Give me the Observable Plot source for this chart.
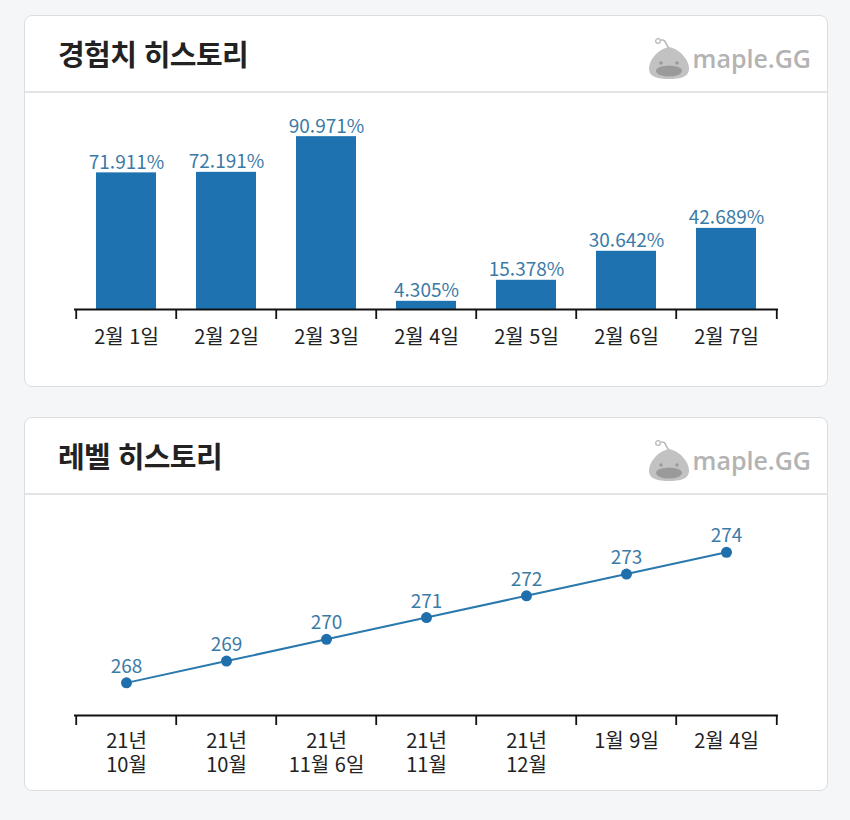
<!DOCTYPE html>
<html lang="ko">
<head>
<meta charset="utf-8">
<script src="https://cdn.jsdelivr.net/npm/d3@7"></script>
<script src="https://cdn.jsdelivr.net/npm/@observablehq/plot@0.6"></script>
<style>
  html, body { margin: 0; padding: 0; background: #f5f6f8; width: 850px; height: 820px; overflow: hidden; }
  body { font-family: "Noto Sans CJK KR", "Noto Sans", sans-serif; position: relative; }
  .card { position: absolute; left: 24px; width: 804px; box-sizing: border-box; background: #fff;
          border: 1px solid #dcdde0; border-radius: 8px; }
  .head { height: 75px; border-bottom: 2px solid #e3e4e6; position: relative; }
  .title { position: absolute; left: 33px; top: 0; line-height: 74px; font-size: 29px; font-weight: 700;
           color: #222; letter-spacing: -0.6px; }
  .logo { position: absolute; right: 16px; top: 20px; height: 44px; display: flex; align-items: center; }
  .logo span { font-family: "Open Sans", Lato, sans-serif; font-weight: 600; font-size: 25px; color: #b3b3b3;
               letter-spacing: 0px; margin-left: 1px; }
  .chart { position: absolute; left: 24px; }
</style>
</head>
<body>
<div class="card" style="top:15px;height:372px;">
  <div class="head"><div class="title">경험치 히스토리</div>
    <div class="logo"><svg width="46" height="44" viewBox="0 0 46 44">
      <path d="M23 12 C 19 8, 20 3, 15 4" fill="none" stroke="#b9b9b9" stroke-width="1.5"/>
      <circle cx="12" cy="5" r="2.3" fill="none" stroke="#b9b9b9" stroke-width="1.3"/>
      <path d="M23 11 C 12 13, 3 24, 3 33 C 3 41, 12 43, 23 43 C 34 43, 43 41, 43 33 C 43 24, 34 13, 23 11 Z" fill="#c2c2c2"/>
      <ellipse cx="23" cy="35" rx="13" ry="5.5" fill="#9a9a9a"/>
      <circle cx="15" cy="27" r="1.7" fill="#9a9a9a"/><circle cx="31" cy="27" r="1.7" fill="#9a9a9a"/>
    </svg><span>maple.GG</span></div>
  </div>
</div>
<div class="card" style="top:417px;height:374px;">
  <div class="head"><div class="title">레벨 히스토리</div>
    <div class="logo"><svg width="46" height="44" viewBox="0 0 46 44">
      <path d="M23 12 C 19 8, 20 3, 15 4" fill="none" stroke="#b9b9b9" stroke-width="1.5"/>
      <circle cx="12" cy="5" r="2.3" fill="none" stroke="#b9b9b9" stroke-width="1.3"/>
      <path d="M23 11 C 12 13, 3 24, 3 33 C 3 41, 12 43, 23 43 C 34 43, 43 41, 43 33 C 43 24, 34 13, 23 11 Z" fill="#c2c2c2"/>
      <ellipse cx="23" cy="35" rx="13" ry="5.5" fill="#9a9a9a"/>
      <circle cx="15" cy="27" r="1.7" fill="#9a9a9a"/><circle cx="31" cy="27" r="1.7" fill="#9a9a9a"/>
    </svg><span>maple.GG</span></div>
  </div>
</div>
<div id="c1" class="chart" style="top:92px;"></div>
<div id="c2" class="chart" style="top:495px;"></div>
<script>
// ---- data ----
const expDays = ["2월 1일", "2월 2일", "2월 3일", "2월 4일", "2월 5일", "2월 6일", "2월 7일"];
const expValues = [71.911, 72.191, 90.971, 4.305, 15.378, 30.642, 42.689];

const levelLabels = ["21년\n10월", "21년\n10월", "21년\n11월 6일", "21년\n11월", "21년\n12월", "1월 9일", "2월 4일"];
const levelValues = [268, 269, 270, 271, 272, 273, 274];

// ---- style ----
const W = 804, ML = 50, MR = 50;
const STEP = (W - ML - MR) / expDays.length;
const BAR = "#1f72b0", LABEL = "#3b7aa6", INK = "#111";
const baseStyle = {fontFamily: "'Noto Sans CJK KR', 'Noto Sans', sans-serif", fontSize: "19px", color: "#222", background: "transparent", overflow: "visible"};

function boundaryAxes(domain) {
  return [
    Plot.axisX({tickSize: 10, tickFormat: () => "", dx: -STEP / 2, stroke: INK, strokeWidth: 1.8}),
    Plot.axisX({ticks: [domain[domain.length - 1]], tickSize: 10, tickFormat: () => "", dx: STEP / 2, stroke: INK, strokeWidth: 1.8})
  ];
}

// ---- chart 1 ----
const expData = expDays.map((d, i) => ({day: d, v: expValues[i]}));
const c1 = Plot.plot({
  width: W, height: 293,
  marginLeft: ML, marginRight: MR, marginTop: 27, marginBottom: 76,
  style: baseStyle,
  x: {domain: expDays, type: "band", paddingInner: 0.4, paddingOuter: 0.2, label: null},
  y: {domain: [0, 100], axis: null},
  marks: [
    Plot.barY(expData, {x: "day", y: "v", fill: BAR}),
    Plot.text(expData, {x: "day", y: "v", text: d => d.v.toFixed(3) + "%", lineAnchor: "bottom", dy: -4, fill: LABEL, fontSize: 19}),
    Plot.ruleY([0], {stroke: INK, strokeWidth: 2}),
    ...boundaryAxes(expDays),
    Plot.axisX({tickSize: 0, tickPadding: 20, fontSize: 20, fill: "#222"})
  ]
});
document.getElementById("c1").append(c1);

// ---- chart 2 ----
const levelIdx = levelLabels.map((_, i) => i);
const levelData = levelIdx.map(i => ({i, v: levelValues[i]}));
const c2 = Plot.plot({
  width: W, height: 295,
  marginLeft: ML, marginRight: MR, marginTop: 35, marginBottom: 75,
  style: baseStyle,
  x: {domain: levelIdx, type: "band", paddingInner: 0.4, paddingOuter: 0.2, label: null},
  y: {domain: [266.5, 275], axis: null},
  marks: [
    Plot.line(levelData, {x: "i", y: "v", stroke: "#2a79ad", strokeWidth: 2}),
    Plot.dot(levelData, {x: "i", y: "v", r: 5.5, fill: "#1f6fad"}),
    Plot.text(levelData, {x: "i", y: "v", text: d => String(d.v), lineAnchor: "bottom", dy: -10, fill: LABEL, fontSize: 19}),
    Plot.ruleY([266.5], {stroke: INK, strokeWidth: 2}),
    ...boundaryAxes(levelIdx),
    Plot.axisX({tickSize: 0, tickPadding: 15, fontSize: 20, fill: "#222", lineHeight: 1.2, tickFormat: i => levelLabels[i]})
  ]
});
document.getElementById("c2").append(c2);
</script>
</body>
</html>
